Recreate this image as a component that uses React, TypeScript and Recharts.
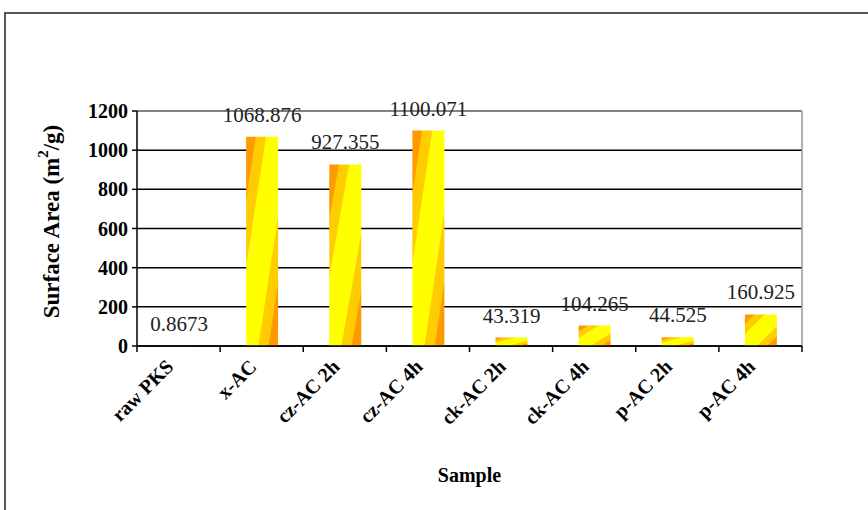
import React from 'react';
import { BarChart, Bar, XAxis, YAxis, CartesianGrid, LabelList, Label } from 'recharts';

const samples = ['raw PKS', 'x-AC', 'cz-AC 2h', 'cz-AC 4h', 'ck-AC 2h', 'ck-AC 4h', 'p-AC 2h', 'p-AC 4h'];
const surfaceArea = [0.8673, 1068.876, 927.355, 1100.071, 43.319, 104.265, 44.525, 160.925];
const valueLabels = ['0.8673', '1068.876', '927.355', '1100.071', '43.319', '104.265', '44.525', '160.925'];
const yTicks = [0, 200, 400, 600, 800, 1000, 1200];

const data = samples.map((name, i) => ({ name, value: surfaceArea[i], label: valueLabels[i] }));

const SERIF = '"Liberation Serif", "Times New Roman", serif';

const SampleTick = (props: any) => {
  const { x, y, payload, index } = props;
  const half = payload?.offset ?? 41.5;
  const last = index === samples.length - 1;
  const ax = x - 4;
  const ay = y + 22;
  return (
    <g>
      <line x1={x - half} y1={y} x2={x - half} y2={y + 6} stroke="#000" strokeWidth={1.5} />
      {last && <line x1={x + half} y1={y} x2={x + half} y2={y + 6} stroke="#000" strokeWidth={1.5} />}
      <text
        x={ax}
        y={ay}
        textAnchor="end"
        transform={`rotate(-45, ${ax}, ${ay})`}
        style={{ fontFamily: SERIF, fontWeight: 700, fontSize: 20, fill: '#000' }}
      >
        {payload.value}
      </text>
    </g>
  );
};

const YTitle = (props: any) => {
  const { viewBox } = props;
  const cx = 51;
  const cy = viewBox.y + viewBox.height / 2 - 7;
  return (
    <text
      x={cx}
      y={cy}
      textAnchor="middle"
      dominantBaseline="central"
      transform={`rotate(-90, ${cx}, ${cy})`}
      style={{ fontFamily: SERIF, fontWeight: 700, fontSize: 23, fill: '#000' }}
    >
      Surface Area (m
      <tspan baselineShift="super" fontSize={15}>2</tspan>
      /g)
    </text>
  );
};

export default function App() {
  return (
    <div style={{ position: 'absolute', left: 0, top: 0, width: 868, height: 510, background: '#fff', overflow: 'hidden' }}>
      <div
        style={{
          position: 'absolute',
          left: 4,
          top: 12,
          width: 900,
          height: 600,
          borderTop: '2px solid #555',
          borderLeft: '2px solid #555',
        }}
      />
      <BarChart
        width={868}
        height={510}
        data={data}
        margin={{ top: 111, right: 66, left: 77, bottom: 24 }}
        barSize={32}
        style={{ position: 'absolute', left: 0, top: 0 }}
      >
        <defs>
          <linearGradient id="barFill" x1="0" y1="0" x2="1" y2="1">
            <stop offset="0%" stopColor="#ff9900" />
            <stop offset="14%" stopColor="#ff9900" />
            <stop offset="16%" stopColor="#ffcc00" />
            <stop offset="30%" stopColor="#ffcc00" />
            <stop offset="32%" stopColor="#ffff00" />
            <stop offset="68%" stopColor="#ffff00" />
            <stop offset="70%" stopColor="#ffcc00" />
            <stop offset="84%" stopColor="#ffcc00" />
            <stop offset="86%" stopColor="#ff9900" />
            <stop offset="100%" stopColor="#ff9900" />
          </linearGradient>
        </defs>
        <CartesianGrid horizontal vertical={false} stroke="#000" strokeWidth={1.5} />
        <line x1={137} y1={111} x2={802} y2={111} stroke="#999" strokeWidth={1.5} />
        <line x1={802} y1={111} x2={802} y2={347} stroke="#999" strokeWidth={1.5} />
        <XAxis
          dataKey="name"
          interval={0}
          tickSize={0}
          tickMargin={0}
          tickLine={false}
          axisLine={{ stroke: '#000', strokeWidth: 1.5 }}
          height={140}
          tick={<SampleTick />}
        >
          <Label
            value="Sample"
            position="insideBottom"
            offset={4}
            style={{ fontFamily: SERIF, fontWeight: 700, fontSize: 20, fill: '#000' }}
          />
        </XAxis>
        <YAxis
          domain={[0, 1200]}
          ticks={yTicks}
          interval={0}
          width={60}
          tickSize={5}
          tickMargin={4}
          axisLine={{ stroke: '#000', strokeWidth: 1.5 }}
          tickLine={{ stroke: '#000', strokeWidth: 1.5 }}
          tick={{ fontFamily: SERIF, fontWeight: 700, fontSize: 20, fill: '#000' }}
        >
          <Label content={<YTitle />} />
        </YAxis>
        <Bar dataKey="value" fill="url(#barFill)" isAnimationActive={false}>
          <LabelList
            dataKey="label"
            position="top"
            offset={15}
            style={{ fontFamily: SERIF, fontSize: 21, fill: '#222' }}
          />
        </Bar>
      </BarChart>
    </div>
  );
}
